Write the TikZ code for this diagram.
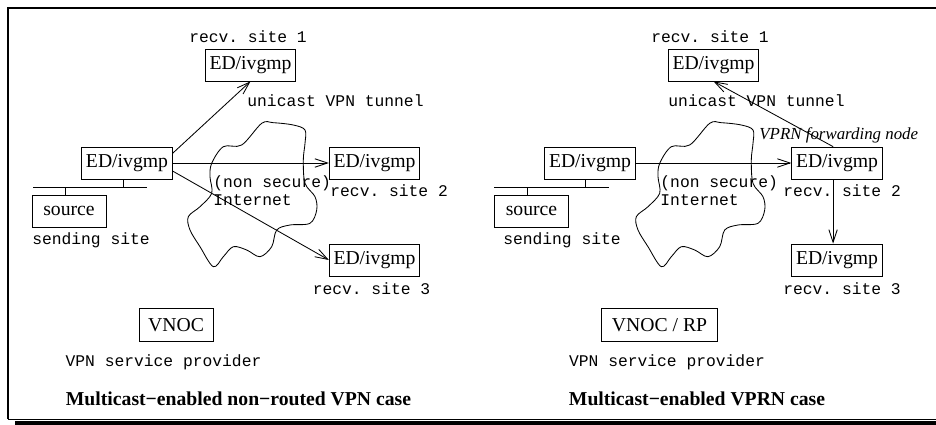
\documentclass[tikz,border=0pt]{standalone}
\usepackage{fontspec}
\setmainfont{Liberation Serif}
\setmonofont{Liberation Mono}
\usetikzlibrary{arrows.meta}
\begin{document}
\begin{tikzpicture}[x=.25mm,y=-.25mm,line width=.6pt,
	box/.style={draw,font=\fontsize{14}{16}\selectfont,minimum height=22.7pt,inner xsep=3pt,inner ysep=0pt},
	tt/.style={font=\ttfamily\fontsize{11.6}{14}\selectfont,inner sep=0pt},
	captext/.style={font=\bfseries\fontsize{14}{16}\selectfont,inner sep=0pt},
	arr/.style={-{Straight Barb[length=9pt,width=6pt]}}]
	\useasboundingbox (0,0) rectangle (936,425);
	% frame
	\draw[line width=1pt] (8,419)--(8,8)--(936,8);
	\draw (8,419)--(936,419);
	\fill (15,420.5) rectangle (936,425);
	% clouds (left one, then shifted copy)
	\foreach \dx in {0,448}{
		\begin{scope}[shift={(\dx,0)}]
			\draw plot[smooth cycle,tension=.55] coordinates {
				(261.7,123.3) (241.7,145) (223.3,146.7) (211.7,163.3) (210,176.7)
				(211.7,193.3) (200,206.7) (188.3,216.7) (190,230) (200,246.7)
				(213.3,266.7) (223.3,256.7) (233.3,246.7) (246.7,250) (260,256.7)
				(271.7,246.7) (276.7,230) (290,225) (310,223.3) (316.7,210)
				(315,196.7) (305,183.3) (303.3,160) (305,143.3) (305,130)
				(293.3,125) (273.3,122.7)};
		\end{scope}
	}
	% ---- left: non-routed VPN
	\node[tt] (lsite1) at (248,37) {recv. site 1};
	\node[box] (lrecv1) at (250.5,65) {ED/ivgmp};
	\node[tt,anchor=west] (ltunnel) at (247,101) {unicast VPN tunnel};
	\node[box] (led) at (127,163) {ED/ivgmp};
	\node[box,minimum width=52.6pt] (lsrc) at (69,211) {source};
	\node[tt] (lsend) at (91,240) {sending site};
	\node[box] (lrecv2) at (374.5,163) {ED/ivgmp};
	\node[tt,anchor=west] (lsite2) at (330,191) {recv. site 2};
	\node[box] (lrecv3) at (374.5,260) {ED/ivgmp};
	\node[tt] (lsite3) at (371.5,289) {recv. site 3};
	\node[tt,anchor=west] (lnon) at (213,183) {(non secure)};
	\node[tt,anchor=west] (lnet) at (213,200) {Internet};
	\node[box,minimum width=52.6pt,minimum height=24pt] (lvnoc) at (176,325) {VNOC};
	\node[tt] (lprov) at (163.5,362) {VPN service provider};
	\node[captext] (lcap) at (238.5,399) {Multicast−enabled non−routed VPN case};
	\draw (33,187)--(147,187);
	\draw ([xshift=-2.8pt]led.south)--+(0,8);
	\draw ([xshift=-2.8pt]lsrc.north)--+(0,-8);
	\draw[arr] (led.12.5)--(lrecv1.south);
	\draw[arr] (led.east)--(lrecv2.west);
	\draw[arr] (led.-10)--(lrecv3.west);
	% ---- right: VPRN
	\node[tt] (rsite1) at (710,37) {recv. site 1};
	\node[box] (rrecv1) at (713.5,65) {ED/ivgmp};
	\node[tt,anchor=west] (rtunnel) at (668,101) {unicast VPN tunnel};
	\node[font=\itshape\fontsize{12}{14}\selectfont,inner sep=0pt,anchor=west] (rfwd) at (759,135) {VPRN forwarding node};
	\node[box] (red) at (590,163) {ED/ivgmp};
	\node[box,minimum width=52.6pt] (rsrc) at (531.5,211) {source};
	\node[tt] (rsend) at (562,240) {sending site};
	\node[box] (rrecv2) at (837,163) {ED/ivgmp};
	\node[tt,anchor=west] (rsite2) at (783,191) {recv. site 2};
	\node[box] (rrecv3) at (837,260) {ED/ivgmp};
	\node[tt] (rsite3) at (842,289) {recv. site 3};
	\node[tt,anchor=west] (rnon) at (660,183) {(non secure)};
	\node[tt,anchor=west] (rnet) at (660,200) {Internet};
	\node[box,minimum width=83pt,minimum height=24pt] (rvnoc) at (659.5,325) {VNOC / RP};
	\node[tt] (rprov) at (667,362) {VPN service provider};
	\node[captext] (rcap) at (697,399) {Multicast−enabled VPRN case};
	\draw (494,187)--(609,187);
	\draw ([xshift=-3.5pt]red.south)--+(0,8);
	\draw ([xshift=-3.2pt]rsrc.north)--+(0,-8);
	\draw[arr] (red.east)--(rrecv2.west);
	\draw[arr] ([xshift=-2.8pt]rrecv2.north)--(rrecv1.south);
	\draw[arr] ([xshift=-2.8pt]rrecv2.south)--([xshift=-2.8pt]rrecv3.north);
\end{tikzpicture}
\end{document}
